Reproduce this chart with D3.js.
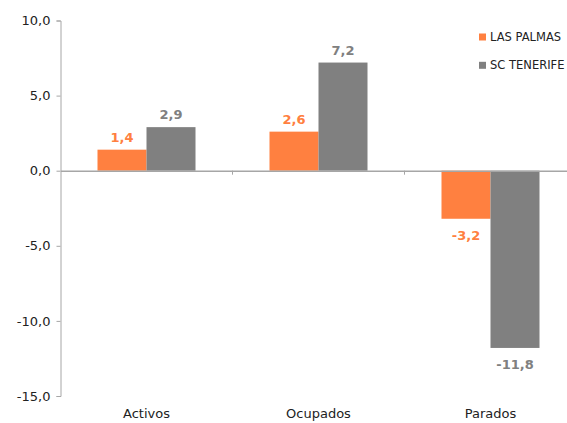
<!DOCTYPE html>
<html>
<head>
<meta charset="utf-8">
<script src="https://cdn.jsdelivr.net/npm/d3@7"></script>
<style>
body { margin: 0; background: #fff; }
text { font-family: "DejaVu Sans", Verdana, sans-serif; }
</style>
</head>
<body>
<svg id="chart" width="567" height="423"></svg>
<script>
var categories = ["Activos", "Ocupados", "Parados"];
var seriesNames = ["LAS PALMAS", "SC TENERIFE"];
var lasPalmas = [1.4, 2.6, -3.2];
var scTenerife = [2.9, 7.2, -11.8];
var yTicks = [10, 5, 0, -5, -10, -15];
var colors = ["#FF8040", "#808080"];

var svg = d3.select("#chart");
var fmt = function (v) { return d3.format(".1f")(v).replace(".", ",").replace("−", "-"); };

var x = d3.scaleBand().domain(categories).range([60.5, 576.5]);
var y = d3.scaleLinear().domain([-15, 10]).range([396, 20.5]);
var inner = d3.scaleBand().domain(seriesNames).range([0, x.bandwidth()]).paddingOuter(0.755).paddingInner(0);

// y axis
var yAxis = svg.append("g").attr("transform", "translate(60.5,0)")
	.call(d3.axisLeft(y).tickValues(yTicks).tickSize(4).tickFormat(fmt));
yAxis.select(".domain").attr("stroke", "#a6a6a6");
yAxis.selectAll(".tick line").attr("stroke", "#a6a6a6");
yAxis.selectAll(".tick text").attr("font-size", "13px").attr("fill", "#222").attr("x", -10)
	.attr("font-family", "DejaVu Sans, Verdana, sans-serif");

// bars
var rows = [];
for (var i = 0; i < categories.length; ++i) {
	rows.push({ cat: categories[i], s: 0, v: lasPalmas[i] });
	rows.push({ cat: categories[i], s: 1, v: scTenerife[i] });
}

svg.append("g").selectAll("rect").data(rows).enter().append("rect")
	.attr("x", function (d) { return x(d.cat) + inner(seriesNames[d.s]); })
	.attr("width", inner.bandwidth())
	.attr("y", function (d) { return y(Math.max(0, d.v)); })
	.attr("height", function (d) { return Math.abs(y(d.v) - y(0)); })
	.attr("fill", function (d) { return colors[d.s]; });

// x axis at zero
var xAxis = svg.append("g").attr("transform", "translate(0," + y(0) + ")")
	.call(d3.axisBottom(x).tickSize(0).tickFormat(""));
xAxis.select(".domain").attr("stroke", "#a6a6a6").attr("stroke-width", 1.5);
xAxis.selectAll(".tick").remove();
var bounds = x.domain().slice(1);
xAxis.selectAll(".sep").data(bounds).enter().append("line")
	.attr("x1", function (d) { return x(d); }).attr("x2", function (d) { return x(d); })
	.attr("y1", 0).attr("y2", 4).attr("stroke", "#a6a6a6");

// category labels
svg.append("g").selectAll("text").data(categories).enter().append("text")
	.attr("x", function (d) { return x(d) + x.bandwidth() / 2; })
	.attr("y", 418)
	.attr("text-anchor", "middle")
	.attr("font-size", "13px")
	.attr("fill", "#222")
	.text(function (d) { return d; });

// value labels
svg.append("g").selectAll("text").data(rows).enter().append("text")
	.attr("x", function (d) { return x(d.cat) + inner(seriesNames[d.s]) + inner.bandwidth() / 2; })
	.attr("y", function (d) { return d.v >= 0 ? y(d.v) - 8 : y(d.v) + 21; })
	.attr("text-anchor", "middle")
	.attr("font-size", "13px")
	.attr("font-weight", "bold")
	.attr("fill", function (d) { return colors[d.s]; })
	.text(function (d) { return fmt(d.v); });

// legend
var leg = svg.append("g").selectAll("g").data(seriesNames).enter().append("g")
	.attr("transform", function (d, i) { return "translate(479," + (33.5 + i * 28.3) + ")"; });
leg.append("rect").attr("width", 7).attr("height", 7).attr("fill", function (d, i) { return colors[i]; });
leg.append("text").attr("x", 11).attr("y", 7.5).attr("font-size", "11.5px").attr("fill", "#222")
	.text(function (d) { return d; });
</script>
</body>
</html>
